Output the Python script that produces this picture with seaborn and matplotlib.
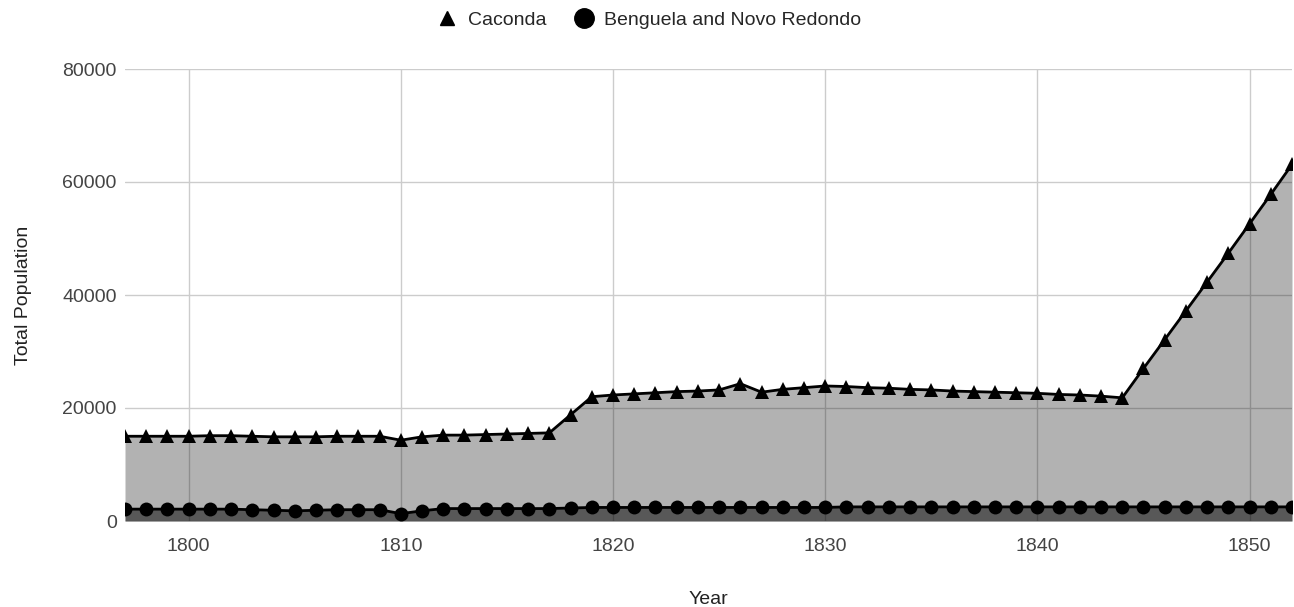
import matplotlib

matplotlib.use("Agg")

import matplotlib.pyplot as plt
import pandas as pd
import seaborn as sns
from matplotlib.lines import Line2D

years = list(range(1797, 1853))

caconda = [
    15000, 15000, 15000, 15000, 15100, 15100, 15000, 14900, 14900, 14900,
    15000, 15000, 15000, 14300, 14900, 15200, 15200, 15300, 15400, 15500,
    15600, 18800, 22000, 22300, 22500, 22700, 22900, 23000, 23200, 24300,
    22800, 23300, 23600, 23900, 23800, 23600, 23500, 23300, 23200, 23000,
    22900, 22800, 22700, 22600, 22400, 22300, 22100, 21800, 27000, 32100,
    37200, 42300, 47400, 52600, 57800, 63100,
]

benguela = [
    2100, 2100, 2100, 2100, 2100, 2100, 2000, 1900, 1800, 1900,
    2000, 2000, 2000, 1300, 1800, 2200, 2200, 2200, 2200, 2200,
    2200, 2300, 2400, 2400, 2400, 2400, 2400, 2400, 2400, 2400,
    2400, 2400, 2400, 2400, 2500, 2500, 2500, 2500, 2500, 2500,
    2500, 2500, 2500, 2500, 2500, 2500, 2500, 2500, 2500, 2500,
    2500, 2500, 2500, 2500, 2500, 2500,
]

df = pd.DataFrame({"Year": years, "Caconda": caconda, "Benguela and Novo Redondo": benguela})

sns.set_style("white")
plt.rcParams["font.family"] = ["Liberation Sans", "DejaVu Sans"]

fig = plt.figure(figsize=(12.94, 6.07), dpi=100)
ax = fig.add_axes([125 / 1294, (607 - 521) / 607, (1292 - 125) / 1294, (521 - 69) / 607])

ax.set_axisbelow(True)
ax.grid(True, color="#cccccc", linewidth=1)

ax.fill_between(df["Year"], df["Caconda"], color="black", alpha=0.3, linewidth=0, zorder=2)
ax.fill_between(df["Year"], df["Benguela and Novo Redondo"], color="black", alpha=0.5, linewidth=0, zorder=2)

sns.lineplot(data=df, x="Year", y="Caconda", color="black", linewidth=2, marker="^",
             markersize=10.5, markeredgewidth=0, ax=ax, zorder=3)
sns.lineplot(data=df, x="Year", y="Benguela and Novo Redondo", color="black", linewidth=2, marker="o",
             markersize=10, markeredgewidth=0, ax=ax, zorder=3)

ax.set_xlim(1797, 1852)
ax.set_ylim(0, 80000)
ax.set_xticks([1800, 1810, 1820, 1830, 1840, 1850])
ax.set_yticks([0, 20000, 40000, 60000, 80000])
ax.tick_params(axis="both", labelsize=14, labelcolor="#444444", length=0)
ax.tick_params(axis="x", pad=12)
ax.tick_params(axis="y", pad=6)
for s in ax.spines.values():
    s.set_visible(False)

ax.set_xlabel("Year", fontsize=14, color="#222222", labelpad=26)
ax.set_ylabel("Total Population", fontsize=14, color="#222222", labelpad=22)

handles = [
    Line2D([], [], color="black", marker="^", linestyle="none", markersize=10),
    Line2D([], [], color="black", marker="o", linestyle="none", markersize=14),
]
fig.legend(handles, ["Caconda", "Benguela and Novo Redondo"], loc="upper center",
           bbox_to_anchor=(0.5, 1.01), ncol=2, frameon=False, fontsize=14,
           handletextpad=0.3, columnspacing=1.2, handlelength=1.5)

fig.savefig("out.png", dpi=100)
